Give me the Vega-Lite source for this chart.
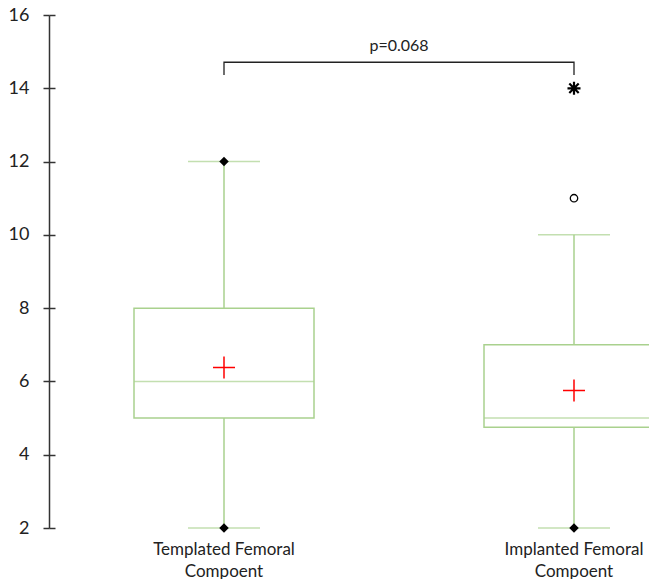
{
  "$schema": "https://vega.github.io/schema/vega-lite/v6.json",
  "width": 700,
  "height": 513,
  "padding": {"left": 8, "top": 6, "right": 0, "bottom": 0},
  "background": "white",
  "config": {"view": {"stroke": null}, "font": "Lato"},
  "datasets": {
    "stats": [
      {"group": "Templated Femoral Compoent", "min": 2, "q1": 5, "median": 6, "q3": 8, "max": 12, "mean": 6.38},
      {"group": "Implanted Femoral Compoent", "min": 2, "q1": 4.75, "median": 5, "q3": 7, "max": 10, "mean": 5.75}
    ],
    "points": [
      {"group": "Templated Femoral Compoent", "value": 12, "kind": "minmax"},
      {"group": "Templated Femoral Compoent", "value": 2, "kind": "minmax"},
      {"group": "Implanted Femoral Compoent", "value": 2, "kind": "minmax"},
      {"group": "Implanted Femoral Compoent", "value": 11, "kind": "outlier"},
      {"group": "Implanted Femoral Compoent", "value": 14, "kind": "extreme"}
    ],
    "bracket": [
      {"group": "Templated Femoral Compoent", "y": 14.36, "o": 1},
      {"group": "Templated Femoral Compoent", "y": 14.71, "o": 2},
      {"group": "Implanted Femoral Compoent", "y": 14.71, "o": 3},
      {"group": "Implanted Femoral Compoent", "y": 14.36, "o": 4}
    ],
    "label": [{"text": "p=0.068", "pos": 1.5, "y": 15.03}]
  },
  "layer": [
    {
      "encoding": {
        "x": {
          "field": "group", "type": "nominal",
          "sort": ["Templated Femoral Compoent", "Implanted Femoral Compoent"],
          "scale": {"paddingInner": 0, "paddingOuter": 0},
          "axis": {
            "title": null, "domain": false, "ticks": false, "labelAngle": 0,
            "labelFontSize": 17, "labelColor": "#222222", "labelPadding": 13,
            "labelLineHeight": 22, "labelBaseline": "top",
            "labelExpr": "datum.value == 'Templated Femoral Compoent' ? ['Templated Femoral', 'Compoent'] : ['Implanted Femoral', 'Compoent']"
          }
        }
      },
      "layer": [
        {
          "data": {"name": "stats"},
          "mark": {"type": "rule", "color": "#a9d18e", "strokeWidth": 1.5},
          "encoding": {
            "y": {"field": "min", "type": "quantitative", "scale": {"domain": [2, 16]},
              "axis": {"title": null, "values": [2,4,6,8,10,12,14,16], "grid": false,
                "domainColor": "#333333", "domainWidth": 1.5, "tickColor": "#333333", "tickWidth": 1.5,
                "tickSize": 6, "labelFontSize": 18, "labelColor": "#222222", "labelPadding": 14}},
            "y2": {"field": "max"}
          }
        },
        {
          "data": {"name": "stats"},
          "mark": {"type": "tick", "color": "#a9d18e", "size": 72, "thickness": 1.5},
          "encoding": {"y": {"field": "min", "type": "quantitative"}}
        },
        {
          "data": {"name": "stats"},
          "mark": {"type": "tick", "color": "#a9d18e", "size": 72, "thickness": 1.5},
          "encoding": {"y": {"field": "max", "type": "quantitative"}}
        },
        {
          "data": {"name": "stats"},
          "mark": {"type": "bar", "fill": "white", "stroke": "#a9d18e", "strokeWidth": 1.5, "size": 180},
          "encoding": {
            "y": {"field": "q1", "type": "quantitative"},
            "y2": {"field": "q3"}
          }
        },
        {
          "data": {"name": "stats"},
          "mark": {"type": "tick", "color": "#a9d18e", "size": 180, "thickness": 1.5},
          "encoding": {"y": {"field": "median", "type": "quantitative"}}
        },
        {
          "data": {"name": "stats"},
          "mark": {"type": "point", "shape": "M-1,0L1,0M0,-1L0,1", "stroke": "#ff0000", "strokeWidth": 1.5, "size": 484, "filled": false, "opacity": 1},
          "encoding": {"y": {"field": "mean", "type": "quantitative"}}
        },
        {
          "data": {"name": "points"},
          "transform": [{"filter": "datum.kind == 'minmax'"}],
          "mark": {"type": "point", "shape": "diamond", "filled": true, "color": "black", "size": 90, "opacity": 1},
          "encoding": {"y": {"field": "value", "type": "quantitative"}}
        },
        {
          "data": {"name": "points"},
          "transform": [{"filter": "datum.kind == 'outlier'"}],
          "mark": {"type": "point", "shape": "circle", "filled": false, "stroke": "black", "fill": "white", "strokeWidth": 1.3, "size": 55, "opacity": 1},
          "encoding": {"y": {"field": "value", "type": "quantitative"}}
        },
        {
          "data": {"name": "points"},
          "transform": [{"filter": "datum.kind == 'extreme'"}],
          "mark": {"type": "point", "shape": "M-1,0L1,0M0,-1L0,1M-0.72,-0.72L0.72,0.72M-0.72,0.72L0.72,-0.72", "filled": false, "stroke": "black", "strokeWidth": 2.2, "size": 170, "opacity": 1},
          "encoding": {"y": {"field": "value", "type": "quantitative"}}
        },
        {
          "data": {"name": "bracket"},
          "mark": {"type": "line", "color": "#222222", "strokeWidth": 1.3},
          "encoding": {
            "y": {"field": "y", "type": "quantitative"},
            "order": {"field": "o", "type": "quantitative"}
          }
        }
      ]
    },
    {
      "data": {"name": "label"},
      "mark": {"type": "text", "fontSize": 16, "color": "#222222", "baseline": "alphabetic", "align": "center"},
      "encoding": {
        "x": {"field": "pos", "type": "quantitative", "scale": {"domain": [0.5, 2.5]}, "axis": null},
        "y": {"field": "y", "type": "quantitative",
          "axis": {"orient": "left", "title": null, "values": [2,4,6,8,10,12,14,16], "grid": false,
            "domain": false, "labels": false, "tickColor": "#333333", "tickWidth": 1.5, "tickSize": -6}},
        "text": {"field": "text"}
      }
    }
  ],
  "resolve": {"scale": {"x": "independent"}, "axis": {"x": "independent", "y": "independent"}}
}
